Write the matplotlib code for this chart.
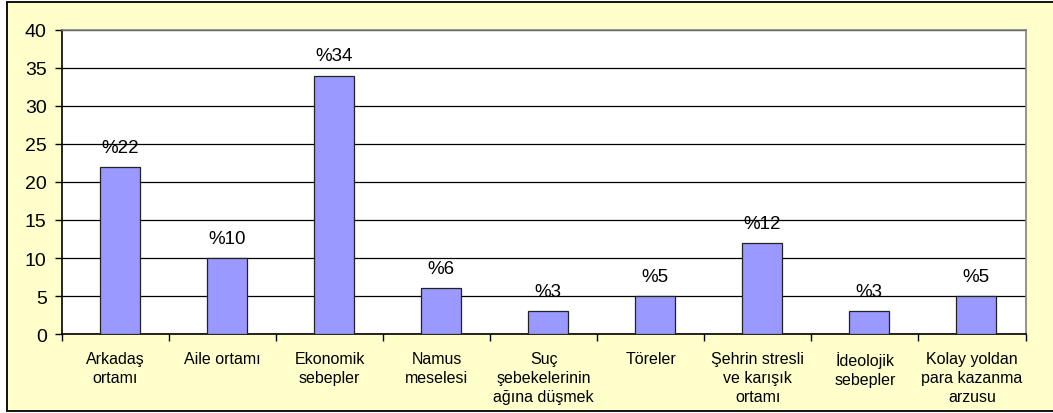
#! /usr/bin/env python3

import matplotlib
matplotlib.use('Agg')
import matplotlib.pyplot as plt
from matplotlib.patches import Rectangle

categories = ['Arkadaş\nortamı', 'Aile ortamı', 'Ekonomik\nsebepler', 'Namus\nmeselesi',
              'Suç\nşebekelerinin\nağına düşmek', 'Töreler', 'Şehrin stresli\nve karışık\nortamı',
              'İdeolojik\nsebepler', 'Kolay yoldan\npara kazanma\narzusu']
values = [22, 10, 34, 6, 3, 5, 12, 3, 5]
bar_labels = ['%22', '%10', '%34', '%6', '%3', '%5', '%12', '%3', '%5']
yticks = [0, 5, 10, 15, 20, 25, 30, 35, 40]


def main():
    plt.rcParams['font.family'] = ['Liberation Sans', 'DejaVu Sans']
    fig = plt.figure(figsize=(10.53, 4.14), dpi=100)
    fig.patch.set_facecolor('white')
    # yellow chart area with black frame, behind the axes (runs off the right edge)
    fig.patches.append(Rectangle((7 / 1053, 1 - 412 / 414), 1060 / 1053, 409 / 414,
                                 transform=fig.transFigure, facecolor='#FFFFCC',
                                 edgecolor='#111111', linewidth=1.4, zorder=-10))

    ax = fig.add_axes([62 / 1053, 1 - 335 / 414, 963.5 / 1053, 304 / 414])
    ax.set_zorder(5)
    ax.set_facecolor('white')
    x = list(range(len(values)))
    xb = [i + 0.04 for i in x]  # bars sit slightly right of centre, as in the original
    bars = ax.bar(xb, values, width=0.37, color='#9999FF', edgecolor='#222222',
                  linewidth=0.9, zorder=3)
    for b, lab in zip(bars, bar_labels):
        ax.annotate(lab, (b.get_x() + b.get_width() / 2, b.get_height()),
                    xytext=(0, 8), textcoords='offset points', ha='center', va='bottom',
                    fontsize=13.5, zorder=4)

    ax.set_xlim(-0.5, len(values) - 0.5)
    ax.set_ylim(0, 40)
    ax.set_yticks(yticks)
    ax.tick_params(axis='y', labelsize=14, length=5, direction='out', width=1, pad=6)
    ax.yaxis.grid(True, color='black', linewidth=0.9, zorder=1)
    ax.set_axisbelow(True)

    ax.set_xticks(x)
    ax.set_xticklabels(categories, fontsize=11.5, linespacing=1.35, va='top')
    ax.tick_params(axis='x', length=0, pad=12)
    ax.set_xticks([i - 0.5 for i in range(len(values) + 1)], minor=True)
    ax.tick_params(axis='x', which='minor', length=5, direction='out', width=1)

    for s in ['top', 'right']:
        ax.spines[s].set_color('#808080')
        ax.spines[s].set_linewidth(1.2)
    for s in ['left', 'bottom']:
        ax.spines[s].set_color('black')
        ax.spines[s].set_linewidth(1.2)

    plt.savefig('out.png', dpi=100, facecolor=fig.get_facecolor())
    print('saved chart to file out.png')


if __name__ == '__main__':
    main()
